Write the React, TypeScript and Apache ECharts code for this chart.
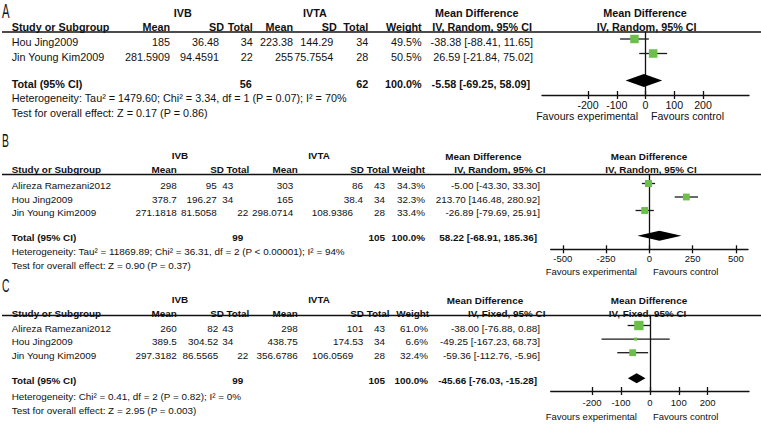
import React, { useEffect, useRef } from "react";
import * as echarts from "echarts";

const FONT = "'Liberation Sans', Arial, Helvetica, sans-serif";
const INK = "#111111";
const GREEN = "#6cc04a";

// ---------------- Panel A data ----------------
const studiesA = ["Hou Jing2009", "Jin Young Kim2009"];
const ivbMeanA = [185, 281.5909];
const ivbSdA = [36.48, 94.4591];
const ivbNA = [34, 22];
const ivtaMeanA = [223.38, 255];
const ivtaSdA = [144.29, 75.7554];
const ivtaNA = [34, 28];
const weightA = [49.5, 50.5];
const mdA = [-38.38, 26.59];
const loA = [-88.41, -21.84];
const hiA = [11.65, 75.02];
const totalNA = [56, 62];
const pooledA = [-5.58, -69.25, 58.09];
const hetA = "Heterogeneity: Tau² = 1479.60; Chi² = 3.34, df = 1 (P = 0.07); I² = 70%";
const testA = "Test for overall effect: Z = 0.17 (P = 0.86)";
const methodA = "IV, Random, 95% CI";
const ticksA = [-200, -100, 0, 100, 200];

// ---------------- Panel B data ----------------
const studiesB = ["Alireza Ramezani2012", "Hou Jing2009", "Jin Young Kim2009"];
const ivbMeanB = [298, 378.7, 271.1818];
const ivbSdB = [95, 196.27, 81.5058];
const ivbNB = [43, 34, 22];
const ivtaMeanB = [303, 165, 298.0714];
const ivtaSdB = [86, 38.4, 108.9386];
const ivtaNB = [43, 34, 28];
const weightB = [34.3, 32.3, 33.4];
const mdB = [-5.0, 213.7, -26.89];
const loB = [-43.3, 146.48, -79.69];
const hiB = [33.3, 280.92, 25.91];
const totalNB = [99, 105];
const pooledB = [58.22, -68.91, 185.36];
const hetB = "Heterogeneity: Tau² = 11869.89; Chi² = 36.31, df = 2 (P < 0.00001); I² = 94%";
const testB = "Test for overall effect: Z = 0.90 (P = 0.37)";
const methodB = "IV, Random, 95% CI";
const ticksB = [-500, -250, 0, 250, 500];

// ---------------- Panel C data ----------------
const studiesC = ["Alireza Ramezani2012", "Hou Jing2009", "Jin Young Kim2009"];
const ivbMeanC = [260, 389.5, 297.3182];
const ivbSdC = [82, 304.52, 86.5565];
const ivbNC = [43, 34, 22];
const ivtaMeanC = [298, 438.75, 356.6786];
const ivtaSdC = [101, 174.53, 106.0569];
const ivtaNC = [43, 34, 28];
const weightC = [61.0, 6.6, 32.4];
const mdC = [-38.0, -49.25, -59.36];
const loC = [-76.88, -167.23, -112.76];
const hiC = [0.88, 68.73, -5.96];
const totalNC = [99, 105];
const pooledC = [-45.66, -76.03, -15.28];
const hetC = "Heterogeneity: Chi² = 0.41, df = 2 (P = 0.82); I² = 0%";
const testC = "Test for overall effect: Z = 2.95 (P = 0.003)";
const methodC = "IV, Fixed, 95% CI";
const ticksC = [-200, -100, 0, 100, 200];

const headerCols = ["Mean", "SD", "Total", "Mean", "SD", "Total", "Weight"];

// ---------------- layout (positions only) ----------------
const layoutA = {
  fs: 10.8, plotFs: 10.6, labelY: 11, groupY: 12.7, mdY: 12.7, headerY: 26.7, ruleY: 32,
  row0Y: 39, rowH: 14.5, textDy: 3.3, hetY: 98.3, testY: 113.3, studyX: 11.7,
  ivbCx: 182.7, ivtaCx: 315, mdCx: 476.7, plotCx: 645, plotHdrCx: 646.7,
  hdrX: [170, 224, 252.7, 293, 336.7, 368.3, 421.7, 532],
  valX: [170, 219, 252.7, 293, 333.3, 368.3, 421.7, 533],
  totN1X: 251.7, totN2X: 368.3, totCiX: 530,
  nShift: [0, 0], sdShift: [0, 0],
  gridL: 542, gridR: 749, axisY: 95, xMin: -360, xMax: 360,
  tickMargin: 4.5, diamondH: 6.5, favY: 116, favExpR: 638, favCtrlL: 651,
};
const layoutB = {
  fs: 9.9, plotFs: 9.5, labelY: 141, groupY: 155, mdY: 156.5, headerY: 169, ruleY: 174.5,
  row0Y: 183.5, rowH: 13.5, textDy: 2, hetY: 251.7, testY: 265, studyX: 11.7,
  ivbCx: 180, ivtaCx: 319, mdCx: 483.3, plotCx: 649, plotHdrCx: 651,
  hdrX: [176.7, 224, 249.3, 297.7, 364, 389.5, 425, 545.5],
  valX: [176.7, 216.7, 233.3, 293.3, 363, 385, 425, 540],
  totN1X: 243.3, totN2X: 385, totCiX: 537,
  nShift: [0, 0, 15], sdShift: [0, 0, -10],
  gridL: 550.7, gridR: 748, axisY: 249.3, xMin: -570, xMax: 570,
  tickMargin: 4.5, diamondH: 5, favY: 271.7, favExpR: 637, favCtrlL: 653,
};
const layoutC = {
  fs: 9.9, plotFs: 9.5, labelY: 286, groupY: 299, mdY: 300, headerY: 313.5, ruleY: 315.5,
  row0Y: 325.5, rowH: 13.6, textDy: 2.5, hetY: 396.7, testY: 410, studyX: 11.7,
  ivbCx: 180, ivtaCx: 319, mdCx: 485, plotCx: 649, plotHdrCx: 647.5,
  hdrX: [176.7, 224, 249.3, 297.7, 364, 389.5, 429, 545.5],
  valX: [176.7, 218.3, 233.3, 297.7, 363.3, 385, 428, 540],
  totN1X: 243.3, totN2X: 385, totCiX: 537,
  nShift: [0, 0, 15], sdShift: [0, 0, -10],
  gridL: 550.7, gridR: 749, axisY: 391, xMin: -343, xMax: 343,
  tickMargin: 6, diamondH: 5, favY: 416, favExpR: 637, favCtrlL: 653,
};

const TOTAL_GAP = 0.87;
const SQ_K = 1.2;

const panels = [
  { label: "A", studies: studiesA, ivbMean: ivbMeanA, ivbSd: ivbSdA, ivbN: ivbNA, ivtaMean: ivtaMeanA, ivtaSd: ivtaSdA, ivtaN: ivtaNA, weight: weightA, md: mdA, lo: loA, hi: hiA, totalN: totalNA, pooled: pooledA, het: hetA, test: testA, method: methodA, ticks: ticksA, lay: layoutA },
  { label: "B", studies: studiesB, ivbMean: ivbMeanB, ivbSd: ivbSdB, ivbN: ivbNB, ivtaMean: ivtaMeanB, ivtaSd: ivtaSdB, ivtaN: ivtaNB, weight: weightB, md: mdB, lo: loB, hi: hiB, totalN: totalNB, pooled: pooledB, het: hetB, test: testB, method: methodB, ticks: ticksB, lay: layoutB },
  { label: "C", studies: studiesC, ivbMean: ivbMeanC, ivbSd: ivbSdC, ivbN: ivbNC, ivtaMean: ivtaMeanC, ivtaSd: ivtaSdC, ivtaN: ivtaNC, weight: weightC, md: mdC, lo: loC, hi: hiC, totalN: totalNC, pooled: pooledC, het: hetC, test: testC, method: methodC, ticks: ticksC, lay: layoutC },
];

const f2 = (v: number) => v.toFixed(2);
const ciText = (m: number, l: number, h: number) => `${f2(m)} [${f2(l)}, ${f2(h)}]`;

function T(x: number, y: number, text: string, fs: number, align = "left", bold = false, extra: any = {}) {
  return {
    type: "text",
    x,
    y,
    silent: true,
    ...extra,
    style: {
      text,
      x: 0,
      y: 0,
      fontSize: fs,
      fontFamily: FONT,
      fontWeight: bold ? "bold" : "normal",
      fill: INK,
      align,
      verticalAlign: "middle",
      textAlign: align,
      textVerticalAlign: "middle",
    },
  };
}

function buildOption() {
  const grids: any[] = [];
  const xAxes: any[] = [];
  const yAxes: any[] = [];
  const series: any[] = [];
  const elements: any[] = [];

  panels.forEach((p, pi) => {
    const L = p.lay;
    const n = p.studies.length;
    const fs = L.fs;

    // ---- table texts ----
    elements.push(T(2, L.labelY, p.label, L.fs * 1.8, "left", false, { scaleX: 0.58 }));
    elements.push(T(L.ivbCx, L.groupY, "IVB", fs, "center", true));
    elements.push(T(L.ivtaCx, L.groupY, "IVTA", fs, "center", true));
    elements.push(T(L.mdCx, L.mdY, "Mean Difference", fs, "center", true));
    elements.push(T(L.plotCx, L.mdY, "Mean Difference", fs, "center", true));
    elements.push(T(L.studyX, L.headerY, "Study or Subgroup", fs, "left", true));
    headerCols.forEach((h, k) => elements.push(T(L.hdrX[k], L.headerY, h, fs, "right", true)));
    elements.push(T(L.hdrX[7], L.headerY, p.method, fs, "right", true));
    elements.push(T(L.plotHdrCx, L.headerY, p.method, fs, "center", true));
    elements.push({
      type: "line",
      silent: true,
      shape: { x1: 2, y1: L.ruleY, x2: 761, y2: L.ruleY },
      style: { stroke: INK, lineWidth: 1.5 },
    });

    p.studies.forEach((s, i) => {
      const y = L.row0Y + i * L.rowH + L.textDy;
      elements.push(T(L.studyX, y, s, fs));
      elements.push(T(L.valX[0], y, String(p.ivbMean[i]), fs, "right"));
      elements.push(T(L.valX[1], y, String(p.ivbSd[i]), fs, "right"));
      elements.push(T(L.valX[2] + L.nShift[i], y, String(p.ivbN[i]), fs, "right"));
      elements.push(T(L.valX[3], y, String(p.ivtaMean[i]), fs, "right"));
      elements.push(T(L.valX[4] + L.sdShift[i], y, String(p.ivtaSd[i]), fs, "right"));
      elements.push(T(L.valX[5], y, String(p.ivtaN[i]), fs, "right"));
      elements.push(T(L.valX[6], y, p.weight[i].toFixed(1) + "%", fs, "right"));
      elements.push(T(L.valX[7], y, ciText(p.md[i], p.lo[i], p.hi[i]), fs, "right"));
    });

    const ty = L.row0Y + (n + TOTAL_GAP) * L.rowH + L.textDy;
    elements.push(T(L.studyX, ty, "Total (95% CI)", fs, "left", true));
    elements.push(T(L.totN1X, ty, String(p.totalN[0]), fs, "right", true));
    elements.push(T(L.totN2X, ty, String(p.totalN[1]), fs, "right", true));
    elements.push(T(L.valX[6], ty, p.weight.reduce((a, b) => a + b, 0).toFixed(1) + "%", fs, "right", true));
    elements.push(T(L.totCiX, ty, ciText(p.pooled[0], p.pooled[1], p.pooled[2]), fs, "right", true));
    elements.push(T(L.studyX, L.hetY, p.het, fs));
    elements.push(T(L.studyX, L.testY, p.test, fs));
    elements.push(T(L.favExpR, L.favY, "Favours experimental", L.plotFs, "right"));
    elements.push(T(L.favCtrlL, L.favY, "Favours control", L.plotFs, "left"));

    // ---- forest plot ----
    grids.push({
      left: L.gridL,
      top: L.ruleY,
      width: L.gridR - L.gridL,
      height: L.axisY - L.ruleY,
      containLabel: false,
    });
    const common = { type: "value", gridIndex: pi, min: L.xMin, max: L.xMax, position: "bottom", splitLine: { show: false } };
    xAxes.push({
      ...common,
      axisLine: { show: true, onZero: false, lineStyle: { color: INK, width: 1.3 } },
      axisTick: { show: true, inside: false, length: 4, customValues: p.ticks, lineStyle: { color: INK, width: 1.3 } },
      axisLabel: { show: true, customValues: p.ticks, margin: L.tickMargin, fontSize: L.plotFs, fontFamily: FONT, color: INK },
    });
    xAxes.push({
      ...common,
      axisLine: { show: false, onZero: false },
      axisTick: { show: true, inside: true, length: 4, customValues: p.ticks, lineStyle: { color: INK, width: 1.3 } },
      axisLabel: { show: false, customValues: p.ticks },
    });
    yAxes.push({
      type: "value",
      gridIndex: pi,
      inverse: true,
      min: (L.ruleY - L.row0Y) / L.rowH,
      max: (L.axisY - L.row0Y) / L.rowH,
      axisLine: { show: true, onZero: true, lineStyle: { color: INK, width: 1.3 } },
      axisTick: { show: false },
      axisLabel: { show: false },
      splitLine: { show: false },
    });

    series.push({
      type: "custom",
      name: "studies" + p.label,
      xAxisIndex: pi * 2,
      yAxisIndex: pi,
      data: p.studies.map((_, i) => [p.md[i], i, p.lo[i], p.hi[i], p.weight[i]]),
      renderItem: (params: any, api: any) => {
        const row = api.value(1);
        const c = api.coord([api.value(0), row]);
        const l = api.coord([api.value(2), row]);
        const h = api.coord([api.value(3), row]);
        const s = SQ_K * Math.sqrt(api.value(4));
        return {
          type: "group",
          children: [
            { type: "line", shape: { x1: l[0], y1: c[1], x2: h[0], y2: c[1] }, style: { stroke: "#1a1a1a", lineWidth: 1.3 } },
            { type: "rect", shape: { x: c[0] - s / 2, y: c[1] - s / 2, width: s, height: s }, style: { fill: GREEN } },
          ],
        };
      },
    });
    series.push({
      type: "custom",
      name: "pooled" + p.label,
      xAxisIndex: pi * 2,
      yAxisIndex: pi,
      data: [[p.pooled[0], n + TOTAL_GAP, p.pooled[1], p.pooled[2]]],
      renderItem: (params: any, api: any) => {
        const row = api.value(1);
        const c = api.coord([api.value(0), row]);
        const l = api.coord([api.value(2), row]);
        const h = api.coord([api.value(3), row]);
        const dh = L.diamondH;
        return {
          type: "polygon",
          shape: { points: [[l[0], c[1]], [c[0], c[1] - dh], [h[0], c[1]], [c[0], c[1] + dh]] },
          style: { fill: "#000" },
        };
      },
    });
  });

  return {
    animation: false,
    backgroundColor: "#ffffff",
    textStyle: { fontFamily: FONT },
    grid: grids,
    xAxis: xAxes,
    yAxis: yAxes,
    series,
    graphic: { elements },
  };
}

export default function App() {
  const ref = useRef<HTMLDivElement>(null);
  useEffect(() => {
    const chart = echarts.init(ref.current!, null, { renderer: "svg", width: 761, height: 425 });
    chart.setOption(buildOption() as any);
    return () => chart.dispose();
  }, []);
  return (
    <div
      ref={ref}
      style={{ position: "fixed", left: 0, top: 0, width: 761, height: 425, background: "#fff" }}
    />
  );
}
